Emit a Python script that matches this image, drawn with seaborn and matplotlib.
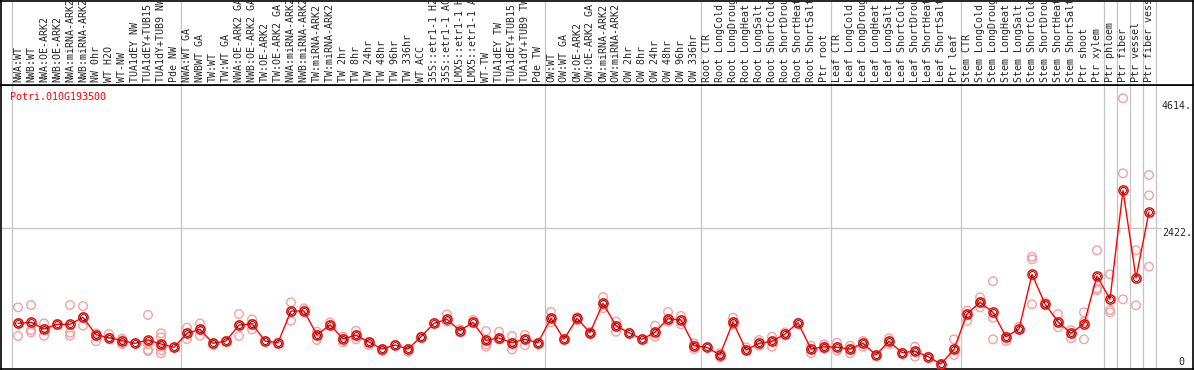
import matplotlib
matplotlib.use("Agg")
import matplotlib.pyplot as plt
import seaborn as sns
import pandas as pd

# sample labels, in plot order
labels = [
    "NWA:WT", "NWB:WT", "NWA:OE-ARK2", "NWB:OE-ARK2", "NWA:miRNA-ARK2", "NWB:miRNA-ARK2",
    "NW 0hr", "WT H2O", "WT-NW", "TUA1dEY NW", "TUA1dEY+TUB15 NW", "TUA1dY+TUB9 NW", "Pde NW",
    "NWA:WT GA", "NWBWT GA", "TW:WT", "TW:WT GA", "NWA:OE-ARK2 GA", "NWB:OE-ARK2 GA",
    "TW:OE-ARK2", "TW:OE-ARK2 GA", "NWA:miRNA-ARK2 GA", "NWB:miRNA-ARK2 GA", "TW:miRNA-ARK2",
    "TW:miRNA-ARK2 GA", "TW 2hr", "TW 8hr", "TW 24hr", "TW 48hr", "TW 96hr", "TW 336hr", "WT ACC",
    "35S::etr1-1 H2O", "35S::etr1-1 ACC", "LMX5::etr1-1 H2O", "LMX5::etr1-1 ACC", "WT-TW",
    "TUA1dEY TW", "TUA1dEY+TUB15 TW", "TUA1dY+TUB9 TW", "Pde TW",
    "OW:WT", "OW:WT GA", "OW:OE-ARK2", "OW:OE-ARK2 GA", "OW:miRNA-ARK2", "OW:miRNA-ARK2 GA",
    "OW 2hr", "OW 8hr", "OW 24hr", "OW 48hr", "OW 96hr", "OW 336hr",
    "Root CTR", "Root LongCold", "Root LongDrought", "Root LongHeat", "Root LongSalt",
    "Root ShortCold", "Root ShortDrought", "Root ShortHeat", "Root ShortSalt", "Ptr root",
    "Leaf CTR", "Leaf LongCold", "Leaf LongDrought", "Leaf LongHeat", "Leaf LongSalt",
    "Leaf ShortCold", "Leaf ShortDrought", "Leaf ShortHeat", "Leaf ShortSalt", "Ptr leaf",
    "Stem CTR", "Stem LongCold", "Stem LongDrought", "Stem LongHeat", "Stem LongSalt",
    "Stem ShortCold", "Stem ShortDrought", "Stem ShortHeat", "Stem ShortSalt", "Ptr shoot", "Ptr xylem",
    "Ptr phloem", "Ptr fiber", "Ptr vessel", "Ptr fiber vessel",
]

# first index of each sample group
group_starts = [0, 13, 41, 53, 63, 73, 84, 85, 86, 87, 88]

# mean expression per sample
means = [
    786, 804, 688, 769, 769, 890, 590, 539, 487, 442, 499, 430, 373,
    614, 683, 442, 482, 757, 780, 482, 453, 998, 998, 585, 762, 521, 580, 465, 344, 413,
    344, 556, 786, 855, 659, 804, 494, 534, 453, 511, 453,
    873, 511, 873, 625, 1131, 745, 625, 511, 632, 866, 843, 401,
    373, 241, 809, 327, 442, 477, 602, 797, 344, 384,
    373, 344, 442, 241, 477, 281, 305, 212, 86, 339,
    947, 1148, 976, 556, 688, 1630, 1119, 814, 614, 780, 1601,
    1200, 3075, 1566, 2702,
]

# replicate values per sample
replicates = [
    [1062, 786, 568], [1101, 671, 632], [786, 688, 573], [769], [1101, 626, 573],
    [1084, 890, 746], [614, 568, 477], [602, 539], [523, 487, 430], [442],
    [930, 330, 310, 430], [614, 545, 430, 384, 327, 270], [373],
    [711, 614, 516], [786, 683, 574], [442, 413], [482], [947, 757, 568], [855, 780, 683],
    [482], [453], [1147, 998, 831], [1044, 998], [642, 585, 499], [803, 762],
    [556, 521, 459], [659, 580, 511], [465, 413], [344, 310], [413], [344, 298], [556],
    [786], [940, 855, 815], [682, 637], [843, 804], [654, 494, 425, 384], [642, 534, 511],
    [568, 453, 338], [585, 511, 409], [453, 430],
    [982, 873, 804], [511], [890, 873, 843], [642, 625, 602], [1239, 1131, 1045],
    [815, 745, 642], [625], [511], [745, 632, 556], [982, 866, 815], [913, 843, 769],
    [442, 401, 344],
    [373], [270, 241, 201], [883, 809, 769], [373, 327], [499, 442, 401], [556, 477, 384],
    [631, 602], [797], [401, 344, 270], [425, 384, 356],
    [453, 373, 316], [401, 344, 270], [482, 442, 384], [241], [528, 477, 430], [281],
    [384, 305, 212], [212], [86, 69], [511, 339, 241],
    [1004, 947, 826], [1233, 1148, 1061], [1509, 883, 511], [556, 482], [728, 688],
    [1933, 1888, 1113], [1148, 1119], [946, 814, 719], [671, 614, 528], [976, 814, 511],
    [2043, 1389, 1360],
    [1630, 1016, 976], [4659, 3368, 1200], [2043, 1096], [3339, 2989, 1761],
]

gene = "Potri.010G193500"
y_marks = [4614, 2422]

df_mean = pd.DataFrame({"pos": range(len(means)), "expr": means})
df_rep = pd.DataFrame(
    [(i, v) for i, vals in enumerate(replicates) for v in vals], columns=["pos", "expr"]
)

sns.set_style("white")
plt.rcParams["font.family"] = ["DejaVu Sans Mono"]

W, H = 1194, 370
fig = plt.figure(figsize=(W / 100, H / 100), dpi=100)
ax = fig.add_axes([1 / W, 1 / H, 1192 / W, 284 / H])
hx = fig.add_axes([1 / W, 285 / H, 1192 / W, 84.5 / H])

xlim = ((1 - 18) / 13, (1193 - 18) / 13)
grey = "#c4c4c4"

# replicates behind, means on top
sns.scatterplot(data=df_rep, x="pos", y="expr", ax=ax, marker="o", s=38,
                facecolors="none", edgecolor="#f2a2a2", linewidth=1.0, zorder=3)
sns.lineplot(data=df_mean, x="pos", y="expr", ax=ax, color="red", lw=1,
             marker="o", markersize=6.6, markerfacecolor="none",
             markeredgecolor="red", markeredgewidth=1.1, zorder=4)
ax.plot(df_mean["pos"], df_mean["expr"], ls="none", marker="o", ms=4.2,
        mfc="none", mec="#300000", mew=0.6, zorder=5)

for b in group_starts:
    ax.axvline(b - 0.5, color=grey, lw=0.9, zorder=1)
    hx.axvline(b - 0.5, color=grey, lw=0.9, zorder=1)
ax.hlines(y_marks[1], xlim[0], 87.9, color=grey, lw=0.9, zorder=1)

ax.set_xlim(*xlim)
ax.set_ylim(0, 284 * 17.21)
ax.set_xticks([])
ax.set_yticks([])
ax.set_xlabel("")
ax.set_ylabel("")

xr = (1192 - 18) / 13
for v in y_marks:
    ax.text(xr, v, f"{v}.", ha="right", va="top", fontsize=7.2)
ax.text(xr - 0.55, 40, "0", ha="right", va="bottom", fontsize=7.2)
ax.text((10 - 18) / 13, (369 - 97) * 17.21, gene, color="red", fontsize=7.2,
        ha="left", va="center")

hx.set_xlim(*xlim)
hx.set_ylim(0, 84.5)
hx.set_xticks([])
hx.set_yticks([])
for i, lab in enumerate(labels):
    hx.text(i, 3, lab, rotation=90, ha="center", va="bottom", fontsize=7.2, clip_on=True)

for a in (ax, hx):
    for s in a.spines.values():
        s.set_color("black")
        s.set_linewidth(1.2)

fig.savefig("out.png", dpi=100)
